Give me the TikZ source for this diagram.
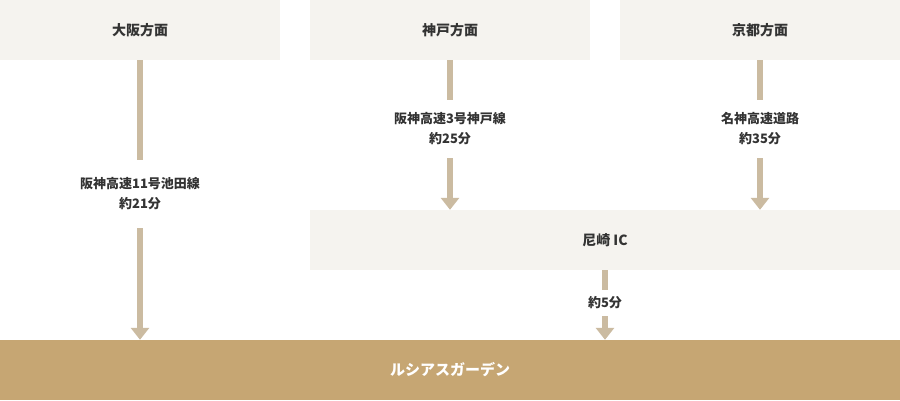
\documentclass[tikz,border=0pt]{standalone}
\usepackage{fontspec}
\setmainfont{Noto Sans CJK JP}
\usetikzlibrary{arrows.meta}
\definecolor{boxbg}{HTML}{F5F3EF}
\definecolor{linec}{HTML}{CBBBA1}
\definecolor{goldbg}{HTML}{C6A673}
\definecolor{txt}{HTML}{333333}
\tikzset{
  area/.style={fill=boxbg, draw=none, inner sep=0pt, text=txt, font=\fontsize{14}{17}\selectfont\bfseries},
  goal/.style={fill=goldbg, draw=none, inner sep=0pt, text=white, font=\fontsize{15}{18}\selectfont\bfseries},
  routelabel/.style={inner sep=0pt, align=center, text=txt, font=\fontsize{13}{20}\selectfont\bfseries},
  conn/.style={draw=linec, line width=6pt},
  connarrow/.style={conn, -{Triangle[width=18pt,length=12pt]}},
}
\begin{document}
\begin{tikzpicture}[x=1pt,y=-1pt]
\useasboundingbox (0,0) rectangle (900,400);
\node[area, minimum width=280, minimum height=60] (osaka) at (140,30) {大阪方面};
\node[area, minimum width=280, minimum height=60] (kobe) at (450,30) {神戸方面};
\node[area, minimum width=280, minimum height=60] (kyoto) at (760,30) {京都方面};
\node[area, minimum width=590, minimum height=60] (ama) at (605,240) {尼崎 IC};
\node[goal, minimum width=900, minimum height=60] (goal) at (450,370) {ルシアスガーデン};
\node[routelabel, minimum height=68] (l1) at (140,194) {阪神高速11号池田線\\約21分};
\node[routelabel, minimum height=58] (l2) at (450,129) {阪神高速3号神戸線\\約25分};
\node[routelabel, minimum height=58] (l3) at (760,129) {名神高速道路\\約35分};
\node[routelabel, minimum height=26] (l4) at (605,303) {約5分};
\draw[conn] (osaka.south) -- (l1.north);
\draw[connarrow] (l1.south) -- (goal.north -| l1.south);
\draw[conn] (kobe.south) -- (l2.north);
\draw[connarrow] (l2.south) -- (ama.north -| l2.south);
\draw[conn] (kyoto.south) -- (l3.north);
\draw[connarrow] (l3.south) -- (ama.north -| l3.south);
\draw[conn] (ama.south -| l4.north) -- (l4.north);
\draw[connarrow] (l4.south) -- (goal.north -| l4.south);
\end{tikzpicture}
\end{document}
